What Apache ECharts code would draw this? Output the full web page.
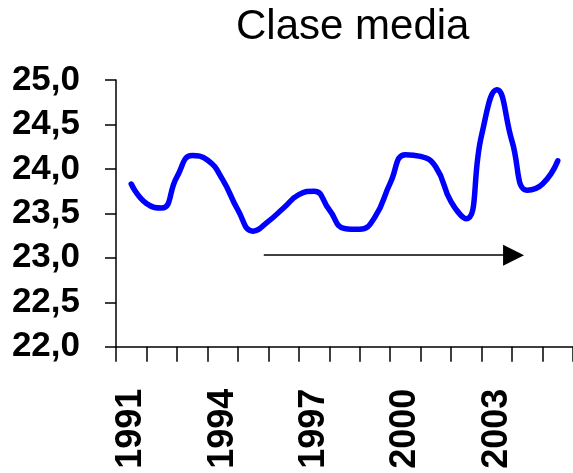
<!DOCTYPE html>
<html>
<head>
<meta charset="utf-8">
<script src="https://cdn.jsdelivr.net/npm/echarts@6/dist/echarts.min.js"></script>
<style>
html,body{margin:0;padding:0;background:#fff;}
#c{width:573px;height:473px;}
</style>
</head>
<body>
<div id="c"></div>
<script>
var title = 'Clase media';
var years = ['1991','1992','1993','1994','1995','1996','1997','1998','1999','2000','2001','2002','2003','2004','2005'];
var periods = [1991, 1991.5, 1992, 1992.5, 1993, 1993.5, 1994, 1994.5, 1995, 1995.5,
               1996, 1996.5, 1997, 1997.5, 1998, 1998.5, 1999, 1999.5, 2000, 2000.5,
               2001, 2001.5, 2002, 2002.5, 2003, 2003.5, 2004, 2004.5, 2005];
var values = [23.83, 23.61, 23.56, 23.91, 24.15, 24.10, 23.88, 23.54, 23.30, 23.41,
              23.56, 23.71, 23.75, 23.54, 23.33, 23.32, 23.46, 23.84, 24.16, 24.14,
              24.02, 23.63, 23.44, 24.38, 24.89, 24.31, 23.76, 23.83, 24.09];
var arrowStart = [1995.35, 23.03];
var arrowEnd = [2003.55, 23.03];

var lineData = periods.map(function (p, i) { return [p, values[i]]; });

var chart = echarts.init(document.getElementById('c'));
chart.setOption({
  animation: false,
  backgroundColor: '#ffffff',
  title: {
    text: title,
    left: 236,
    top: 6,
    padding: 0,
    textStyle: { fontFamily: 'Liberation Sans', fontWeight: 'normal', fontSize: 42, color: '#000' }
  },
  grid: { left: 116, right: -3.5, top: 80, bottom: 126.3, containLabel: false },
  xAxis: [{
    type: 'category',
    data: years,
    boundaryGap: true,
    axisLine: { lineStyle: { color: '#000', width: 1.5 } },
    axisTick: { show: true, interval: 0, length: 15, inside: false, lineStyle: { color: '#000', width: 1.5 } },
    axisLabel: {
      interval: 2, rotate: 90, margin: 42,
      fontFamily: 'Liberation Sans', fontWeight: 'bold', fontSize: 36, color: '#000'
    },
    splitLine: { show: false }
  }, {
    type: 'value',
    min: 1990.5,
    max: 2005.5,
    show: false
  }],
  yAxis: {
    type: 'value',
    min: 22,
    max: 25,
    interval: 0.5,
    axisLine: { show: true, lineStyle: { color: '#000', width: 1.5 } },
    axisTick: { show: true, length: 11, lineStyle: { color: '#000', width: 1.5 } },
    axisLabel: {
      margin: 36,
      fontFamily: 'Liberation Sans', fontWeight: 'bold', fontSize: 35, color: '#000',
      formatter: function (v) { return v.toFixed(1).replace('.', ','); }
    },
    splitLine: { show: false }
  },
  series: [{
    type: 'line',
    xAxisIndex: 1,
    data: lineData,
    smooth: 0.5,
    symbol: 'none',
    lineStyle: { color: '#0000ff', width: 5.5, cap: 'round', join: 'round' },
    markLine: {
      silent: true,
      symbol: ['none', 'triangle'],
      symbolSize: [21, 21],
      label: { show: false },
      lineStyle: { color: '#000', width: 1.5, type: 'solid' },
      data: [[{ coord: arrowStart }, { coord: arrowEnd }]]
    }
  }]
});
</script>
</body>
</html>
